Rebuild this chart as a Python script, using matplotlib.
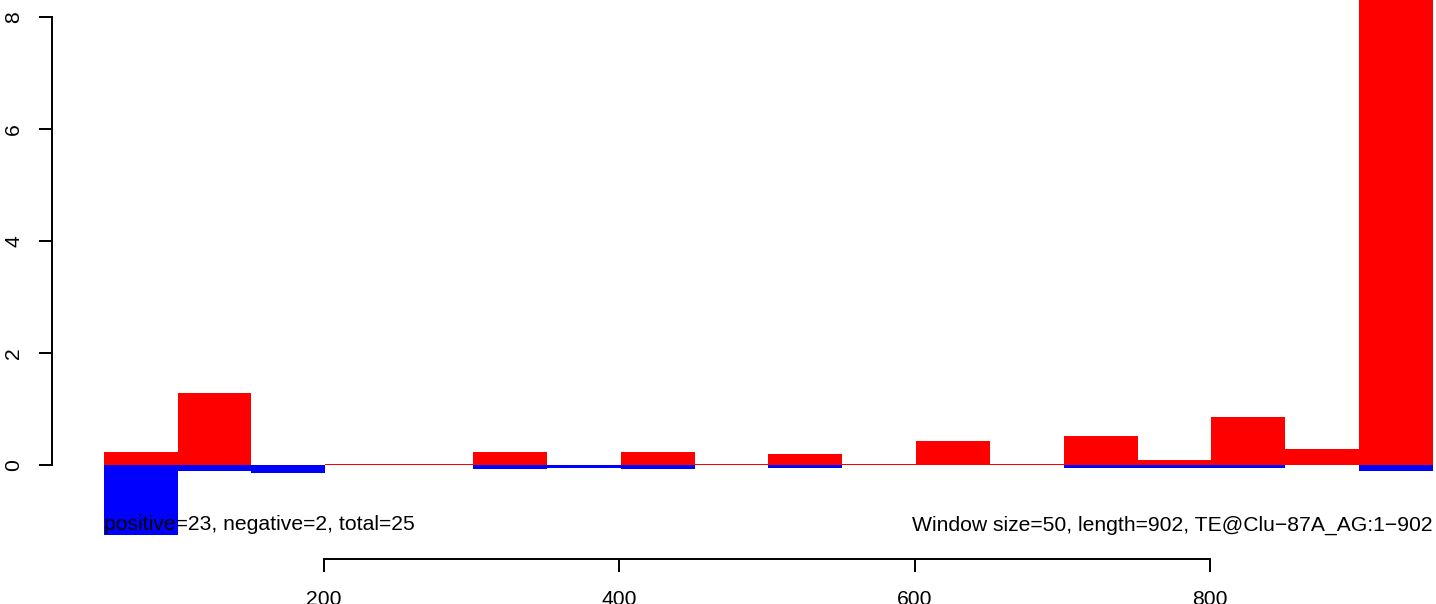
import matplotlib
matplotlib.use("Agg")
import matplotlib.pyplot as plt
import numpy as np

# window start positions (window size 50)
window_starts = [51, 101, 151, 201, 251, 301, 351, 401, 451, 501,
                 551, 601, 651, 701, 751, 801, 851, 901]
positive_vals = [0.23, 1.29, 0.0, 0.02, 0.02, 0.23, 0.0, 0.23, 0.02, 0.20,
                 0.02, 0.43, 0.02, 0.52, 0.09, 0.86, 0.29, 9.5]
negative_vals = [-1.25, -0.10, -0.14, 0.0, 0.0, -0.07, -0.05, -0.07, 0.0, -0.05,
                 0.0, 0.0, 0.0, -0.05, -0.05, -0.05, 0.0, -0.11]
window_size = 50
y_ticks = [0, 2, 4, 6, 8]
x_ticks = [200, 400, 600, 800]
left_text = "positive=23, negative=2, total=25"
right_text = "Window size=50, length=902, TE@Clu\u221287A_AG:1\u2212902"

plt.rcParams['font.family'] = ['Liberation Sans', 'DejaVu Sans']
FS = 15.2

fig = plt.figure(figsize=(14.36, 6.04), dpi=100)
ax = fig.add_axes([0, 0, 1, 1])
ax.set_xlim(-19.3, 953.1)
ax.set_ylim(-2.48, 8.30)

ax.bar(window_starts, positive_vals, width=window_size, align='edge',
       color='#ff0000', linewidth=0)
ax.bar(window_starts, negative_vals, width=window_size, align='edge',
       color='#0000ff', linewidth=0)

for s in ['top', 'right']:
    ax.spines[s].set_visible(False)
ax.spines['left'].set_position(('data', 15.6))
ax.spines['left'].set_bounds(0, 8)
ax.spines['bottom'].set_position(('data', -1.67))
ax.spines['bottom'].set_bounds(200, 800)
for s in ['left', 'bottom']:
    ax.spines[s].set_linewidth(1.4)

ax.set_yticks(y_ticks)
ax.set_yticklabels([str(v) for v in y_ticks], rotation=90, va='center')
ax.set_xticks(x_ticks)
ax.set_xticklabels([str(v) for v in x_ticks])
ax.tick_params(axis='both', length=9.4, width=1.4, labelsize=FS)
ax.tick_params(axis='y', pad=11)
ax.tick_params(axis='x', pad=13)

ax.text(window_starts[0], -1.07, left_text, ha='left', va='center', fontsize=FS)
ax.text(window_starts[-1] + window_size, -1.07, right_text, ha='right',
        va='center', fontsize=FS)

fig.savefig("out.png", dpi=100)
